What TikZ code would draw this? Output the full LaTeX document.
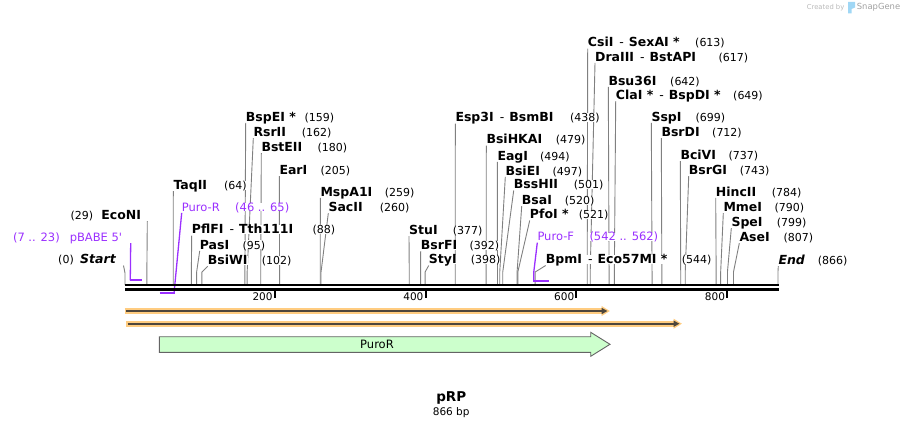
\documentclass[tikz,border=0pt]{standalone}
\usepackage{fontspec}
\setmainfont{DejaVu Sans}
\usetikzlibrary{arrows.meta}
\pgfdeclarelayer{bg}
\pgfsetlayers{bg,main}
\definecolor{primer}{RGB}{155,48,255}
\definecolor{leadgray}{RGB}{128,128,128}
\definecolor{featgreen}{RGB}{204,255,204}
\definecolor{featedge}{RGB}{100,100,100}
\definecolor{halo}{RGB}{255,204,128}
\definecolor{darkline}{RGB}{77,70,60}
\definecolor{wmgray}{RGB}{185,185,185}
\definecolor{wmdark}{RGB}{160,160,160}
\definecolor{logoblue}{RGB}{160,215,245}
\newcommand{\bpx}[1]{125+0.754*#1}
\newcommand{\dsh}{\hspace{6pt}{\mdseries-}\hspace{5pt}}
\newcommand{\site}[6]{%
\node[enzname] (#1) at (#2,#3) {#4};
\node[enznum] (#1n) at (#5,#3) {(#6)};
\coordinate (#1c) at ({\bpx{#6}},285);
\begin{pgfonlayer}{bg}
\draw[leader] ([yshift=-1.5pt]#1.south west) -- (#1c |- 0,272) -- (#1c);
\end{pgfonlayer}
}
\begin{document}
\begin{tikzpicture}[x=1pt,y=-1pt,
  enzname/.style={anchor=west,inner sep=0pt,fill=white,text height=9pt,text depth=0pt,font=\fontsize{12.5}{14}\selectfont\bfseries},
  enznum/.style={anchor=west,inner sep=0pt,fill=white,text height=9pt,text depth=0pt,font=\fontsize{11}{13}\selectfont},
  primerlabel/.style={anchor=west,inner sep=0pt,fill=white,text=primer,text height=8.4pt,text depth=0pt,font=\fontsize{11.5}{13}\selectfont},
  leader/.style={leadgray,line width=0.9pt},
  primerline/.style={primer,line width=1.3pt},
  primerbar/.style={primer,line width=2.3pt},
  ticklabel/.style={anchor=east,inner sep=0pt,font=\fontsize{10.5}{12}\selectfont}]
\useasboundingbox (0,0) rectangle (904,429);
\site{taqii}{173.3}{185}{TaqII}{224}{64}
\site{pflfi}{191.7}{229.3}{PflFI\dsh Tth111I}{312.3}{88}
\site{pasi}{199.7}{244.7}{PasI}{242.3}{95}
\site{bsiwi}{207.7}{260}{BsiWI}{261.7}{102}
\site{bspei}{245.7}{116.7}{BspEI *}{304.3}{159}
\site{rsrii}{253.3}{132}{RsrII}{301.7}{162}
\site{bsteii}{261.3}{147}{BstEII}{317.3}{180}
\site{eari}{279.3}{170}{EarI}{320.3}{205}
\site{mspai}{320.3}{191.7}{MspA1I}{384.7}{259}
\site{sacii}{328.3}{207}{SacII}{379.7}{260}
\site{stui}{409}{230}{StuI}{452.7}{377}
\site{bsrfi}{420.7}{245}{BsrFI}{469.3}{392}
\site{styi}{428.7}{259.3}{StyI}{470.7}{398}
\site{espi}{455.3}{117.3}{Esp3I\dsh BsmBI}{570}{438}
\site{bsihkai}{486.3}{139.3}{BsiHKAI}{555.7}{479}
\site{eagi}{497.3}{155.7}{EagI}{540}{494}
\site{bsiei}{505.3}{170.7}{BsiEI}{552.3}{497}
\site{bsshii}{513.7}{184.3}{BssHII}{573.7}{501}
\site{bsai}{521.7}{200}{BsaI}{564.7}{520}
\site{pfoi}{529.7}{214.3}{PfoI *}{578.7}{521}
\site{bpmi}{545.7}{259.3}{BpmI\dsh Eco57MI *}{681.7}{544}
\site{csii}{587.7}{42.3}{CsiI\dsh SexAI *}{695}{613}
\site{draiii}{595}{56.7}{DraIII\dsh BstAPI}{718.3}{617}
\site{bsui}{608.3}{80.7}{Bsu36I}{670}{642}
\site{clai}{615.7}{95}{ClaI *\dsh BspDI *}{733}{649}
\site{sspi}{651.3}{116.7}{SspI}{695.3}{699}
\site{bsrdi}{661.3}{132}{BsrDI}{712}{712}
\site{bcivi}{680.3}{155}{BciVI}{728.3}{737}
\site{bsrgi}{688.7}{170}{BsrGI}{739.7}{743}
\site{hincii}{715.7}{191.7}{HincII}{771.7}{784}
\site{mmei}{723.3}{207}{MmeI}{774.3}{790}
\site{spei}{731.3}{222}{SpeI}{776.7}{799}
\site{asei}{739.3}{237}{AseI}{783.3}{807}
\site{endm}{778.3}{260}{\itshape End}{817.7}{866}
\node[enzname,anchor=east] (start) at (116,259.3) {\itshape Start};
\node[enznum,anchor=east] (startn) at (74,259.3) {(0)};
\coordinate (startc) at ({\bpx{0}},285);
\node[enzname,anchor=east] (econi) at (141.3,215) {EcoNI};
\node[enznum,anchor=east] (econin) at (93.3,215) {(29)};
\coordinate (econic) at ({\bpx{29}},285);
\begin{pgfonlayer}{bg}
\draw[leader] ([xshift=7.5pt,yshift=-1.5pt]start.south east) -- (startc |- 0,273) -- (startc);
\draw[leader] ([xshift=6pt,yshift=-1.5pt]econi.south east) -- (econic |- 0,272) -- (econic);
\end{pgfonlayer}
\node[primerlabel,anchor=east] (pbabe) at (122.3,237.3) {pBABE 5\textquotesingle};
\node[primerlabel,anchor=east] (pbaben) at (60,237.3) {(7 .. 23)};
\coordinate (pbabec) at ({\bpx{7}},280.3);
\coordinate (pbabeend) at ({\bpx{23}},280.3);
\draw[primerline] ([xshift=8.4pt,yshift=-1.5pt]pbabe.south east) -- (pbabec);
\draw[primerbar] ([xshift=-0.6pt]pbabec) -- (pbabeend);
\node[primerlabel] (puror) at (181.7,207) {Puro-R};
\node[primerlabel] (purorn) at (235,207) {(46 .. 65)};
\coordinate (purorc) at ({\bpx{65}},293.3);
\coordinate (purorend) at ({\bpx{46}},293.3);
\draw[primerline] ([yshift=-1.5pt]puror.south west) -- (purorc);
\draw[primerbar] (purorend) -- ([xshift=0.6pt]purorc);
\node[primerlabel] (purof) at (537.3,236.7) {Puro-F};
\node[primerlabel] (purofn) at (589.3,236.7) {(542 .. 562)};
\coordinate (purofc) at ({\bpx{542}},280.7);
\coordinate (purofend) at ({\bpx{562}},280.7);
\draw[primerline] ([yshift=-1.5pt]purof.south west) -- (purofc |- 0,273) -- (purofc);
\draw[primerbar] ([xshift=-0.6pt]purofc) -- (purofend);
\draw[line width=2.7pt] (125,285) -- (778.8,285);
\draw[line width=2.7pt] (125,289.7) -- (778.8,289.7);
\foreach \t in {200,400,600,800} {
  \draw[line width=2pt] ({\bpx{\t}-1},291) -- ({\bpx{\t}-1},297.5);
  \node[ticklabel] (tick\t) at ({\bpx{\t}-3},296.5) {\t};
}
\draw[halo,line width=5.7pt,-{Triangle[length=8.5pt,width=9.5pt]}] (124.5,311) -- (610,311);
\draw[darkline,line width=2pt,-{Triangle[length=6pt,width=6pt]}] (126,311) -- (607.5,311);
\draw[halo,line width=5.7pt,-{Triangle[length=8.5pt,width=9.5pt]}] (126,323.7) -- (682,323.7);
\draw[darkline,line width=2pt,-{Triangle[length=6pt,width=6pt]}] (127.5,323.7) -- (679.5,323.7);
\draw[featedge,fill=featgreen,line width=0.9pt] (159.3,336.7) -- (590.7,336.7) -- (590.7,332.3) -- (610,344.3) -- (590.7,356.3) -- (590.7,352.3) -- (159.3,352.3) -- cycle;
\node[font=\fontsize{11.5}{13}\selectfont] (purorfeat) at (377,344.3) {PuroR};
\node[font=\fontsize{13.5}{15}\selectfont\bfseries] (title) at (451.3,397.7) {pRP};
\node[font=\fontsize{10.5}{12}\selectfont] (size) at (451.2,412.7) {866 bp};
\node[anchor=west,inner sep=0pt,text=wmgray,font=\fontsize{6.8}{8}\selectfont] (created) at (806.7,7.3) {Created by};
\fill[logoblue] (848,1.8) -- (855,1.8) -- (855,7.5) -- (851.5,9) -- (851.5,13.3) -- (848,13.3) -- cycle;
\node[anchor=west,inner sep=0pt,text=wmdark,font=\fontsize{8.4}{10}\selectfont] (snapgene) at (856.7,7.3) {SnapGene};
\end{tikzpicture}
\end{document}
